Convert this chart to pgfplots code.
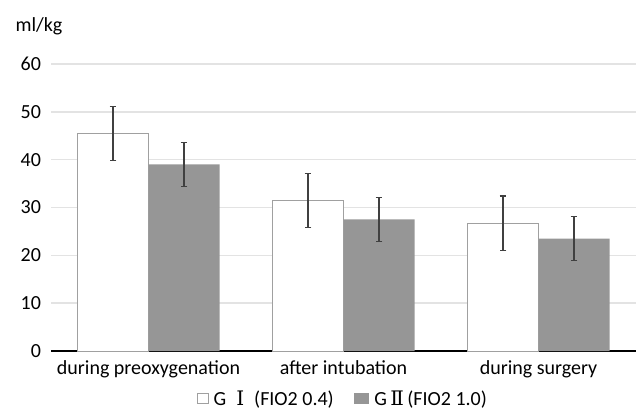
\documentclass[border=0pt]{standalone}
\usepackage{fontspec}
\setmainfont{Carlito}
\newfontfamily\rom{DejaVu Serif}
\usepackage{pgfplots}
\pgfplotsset{compat=1.18}

\definecolor{barfill}{HTML}{969696}
\definecolor{barline}{HTML}{A0A0A0}
\definecolor{gridc}{HTML}{E3E3E3}
\definecolor{errc}{HTML}{404040}

\begin{document}
\begin{tikzpicture}
\useasboundingbox (0pt,0pt) rectangle (478.5pt,-307.5pt);
\node[anchor=base west, inner sep=0pt, font=\fontsize{15pt}{17pt}\selectfont] at (11.5pt,-23.5pt) {ml/kg};
\begin{axis}[
	at={(38.25pt,-263.25pt)}, anchor=south west,
	scale only axis,
	width=438.75pt, height=215.25pt,
	ymin=0, ymax=60, ytick={0,10,...,60},
	xmin=-0.5, xmax=2.5,
	xtick=data,
	xticklabels={during preoxygenation, after intubation, during surgery},
	ybar=0pt, bar width=53.25pt,
	axis x line*=bottom, axis y line*=left,
	y axis line style={draw=none},
	x axis line style={black, line width=0.9pt},
	major tick length=0pt,
	ymajorgrids=true,
	grid style={gridc, line width=1.1pt},
	/pgf/number format/assume math mode=true,
	tick label style={font=\fontsize{15pt}{17pt}\selectfont},
	yticklabel style={xshift=-4pt},
	xticklabel style={yshift=-4pt},
	legend style={draw=none, at={(0.5,-0.118)}, anchor=north,
		font=\fontsize{15pt}{17pt}\selectfont, column sep=13pt,
		/tikz/every odd column/.append style={column sep=2pt}},
	legend columns=2,
	clip=false,
	]
	% G I (FIO2 0.4)
	\addplot[draw=barline, fill=white, line width=0.6pt,
		legend image code/.code={\draw[barline, fill=white, line width=0.6pt] (0pt,-3.8pt) rectangle (7.6pt,4.2pt);},
		error bars/.cd, y dir=both, y explicit,
		error bar style={errc, line width=0.8pt},
		error mark options={rotate=90, mark size=2.5pt, errc, line width=0.8pt}]
		coordinates {
		(0,45.5) +- (0,5.6)
		(1,31.5) +- (0,5.65)
		(2,26.7) +- (0,5.7)};
	\addlegendentry{G\enspace{\rom Ⅰ}\enspace(FIO2 0.4)}
	% G II (FIO2 1.0)
	\addplot[draw=none, fill=barfill,
		legend image code/.code={\fill[barfill] (-0.5pt,-4.2pt) rectangle (11pt,4.5pt);},
		error bars/.cd, y dir=both, y explicit,
		error bar style={errc, line width=0.8pt},
		error mark options={rotate=90, mark size=2.5pt, errc, line width=0.8pt}]
		coordinates {
		(0,39.0) +- (0,4.65)
		(1,27.5) +- (0,4.6)
		(2,23.5) +- (0,4.65)};
	\addlegendentry{G\,{\rom Ⅱ}\,(FIO2 1.0)}
\end{axis}
\end{tikzpicture}
\end{document}
